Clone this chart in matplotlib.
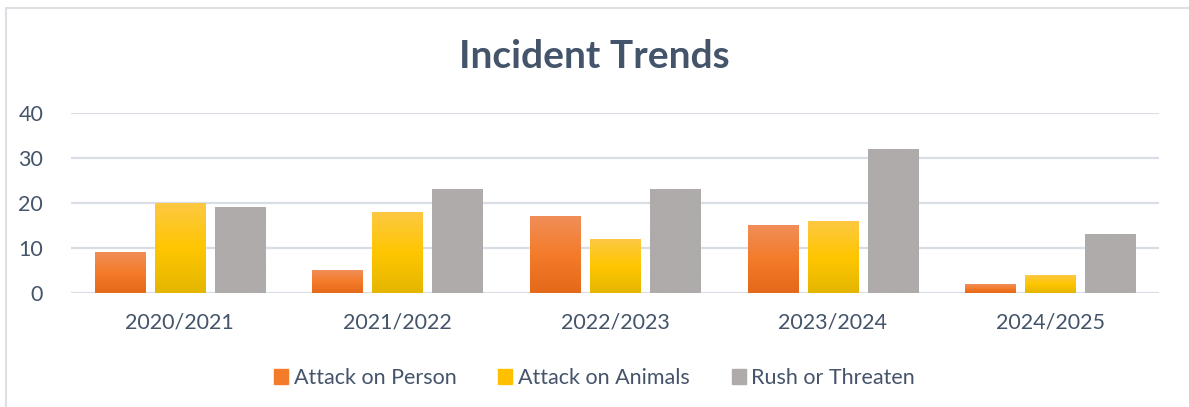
import numpy as np
import matplotlib.pyplot as plt
from matplotlib.patches import Rectangle
from matplotlib.colors import LinearSegmentedColormap

plt.rcParams['font.family'] = ['Lato', 'DejaVu Sans']

years = ['2020/2021', '2021/2022', '2022/2023', '2023/2024', '2024/2025']
person = [9, 5, 17, 15, 2]
animals = [20, 18, 12, 16, 4]
rush = [19, 23, 23, 32, 13]
labels = ['Attack on Person', 'Attack on Animals', 'Rush or Threaten']

text_col = '#44546A'
grid_col = '#D9DEE4'

# gradient colormaps (bottom -> top)
cm_orange = LinearSegmentedColormap.from_list('o', ['#E4691A', '#F47B2A', '#F08E58'])
cm_yellow = LinearSegmentedColormap.from_list('y', ['#E4B600', '#FFC600', '#FDC843'])
cm_gray = LinearSegmentedColormap.from_list('g', ['#AFABAB', '#AFABAB'])

fig = plt.figure(figsize=(11.89, 4.07), dpi=100)
ax = fig.add_axes([71 / 1189, 1 - 293 / 407, 1088 / 1189, 180 / 407])

x = np.arange(len(years))
w = 0.23
step = 0.276
grad = np.linspace(0, 1, 256).reshape(-1, 1)

for i, (vals, cm) in enumerate([(person, cm_orange), (animals, cm_yellow), (rush, cm_gray)]):
    xs = x + (i - 1) * step
    bars = ax.bar(xs, vals, w, color='none', edgecolor='none', zorder=3)
    for b in bars:
        x0, h = b.get_x(), b.get_height()
        ax.imshow(grad, extent=(x0, x0 + w, 0, h), origin='lower', cmap=cm,
                  aspect='auto', zorder=3)

ax.set_xlim(-0.5, len(years) - 0.5)
ax.set_ylim(0, 40)
ax.set_yticks([0, 10, 20, 30, 40])
ax.set_xticks(x)
ax.set_xticklabels(years)
ax.grid(axis='y', color=grid_col, linewidth=1.6, zorder=0)
ax.set_axisbelow(True)
for s in ax.spines.values():
    s.set_visible(False)
ax.tick_params(length=0, labelsize=15.5, colors=text_col)
ax.tick_params(axis='y', pad=20)
ax.tick_params(axis='x', pad=14)

fig.text(0.5, 1 - 57 / 407, 'Incident Trends', ha='center', va='center',
         fontsize=28, fontweight='bold', color=text_col)

handles = [Rectangle((0, 0), 1, 1, color=c) for c in ['#F47B2A', '#FFC000', '#AFABAB']]
fig.legend(handles, labels, loc='center', bbox_to_anchor=(0.5, 1 - 378 / 407), ncol=3,
           frameon=False, fontsize=15.5, labelcolor=text_col, handlelength=0.65,
           handleheight=0.65, handletextpad=0.25, columnspacing=1.95)

fig.add_artist(Rectangle((6 / 1189, -0.01), 1.1, 1 - 8 / 407 + 0.01, transform=fig.transFigure,
                         fill=False, edgecolor='#DDE1E6', linewidth=1.5))

fig.savefig('out.png', dpi=100)
